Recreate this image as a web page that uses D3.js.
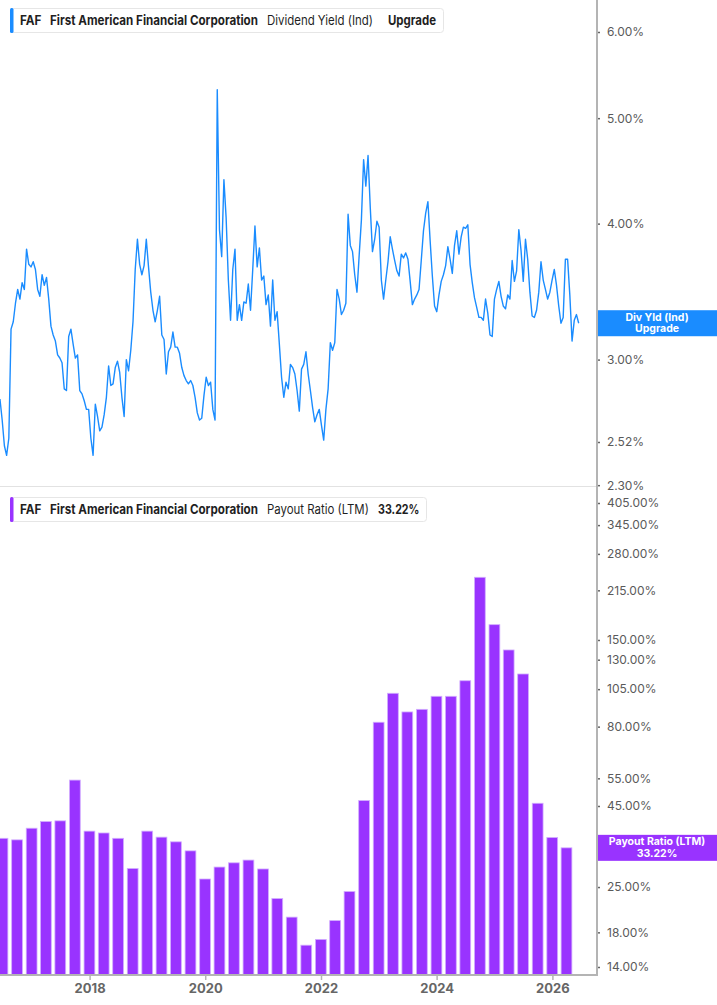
<!DOCTYPE html>
<html>
<head>
<meta charset="utf-8">
<script src="https://cdn.jsdelivr.net/npm/d3@7"></script>
<style>
body { margin: 0; background: #fff; }
svg { display: block; font-family: Inter, "Noto Sans", sans-serif; }
</style>
</head>
<body>
<div id="chart"></div>
<script>
// dividend yield (%), one reading every 14 days starting on yieldStart
var yieldStart = "2016-06-14";
var yieldValues = [
2.76,2.64,2.50,2.45,2.54,3.20,3.25,3.38,3.48,3.41,3.53,3.48,3.79,3.67,3.65,3.69,3.63,3.48,3.43,3.59,
3.51,3.57,3.41,3.22,3.16,3.12,3.03,3.01,2.98,2.82,2.81,3.15,3.20,3.10,3.01,3.03,2.81,2.79,2.75,2.70,
2.70,2.54,2.45,2.73,2.66,2.58,2.60,2.67,2.77,2.96,2.84,2.85,2.95,2.99,2.92,2.77,2.66,3.00,2.93,3.06,
3.25,3.63,3.87,3.67,3.59,3.66,3.87,3.65,3.46,3.33,3.25,3.33,3.43,3.16,3.13,2.91,3.05,3.08,3.18,3.08,
3.08,3.04,2.95,2.90,2.87,2.85,2.87,2.84,2.77,2.68,2.64,2.65,2.78,2.89,2.84,2.86,2.70,2.64,5.31,3.95,
3.73,4.39,4.05,3.55,3.26,3.63,3.79,3.26,3.37,3.26,3.39,3.38,3.52,3.33,3.63,3.98,3.65,3.80,3.55,3.58,
3.37,3.44,3.22,3.55,3.26,3.32,3.10,2.89,2.77,2.86,2.82,2.97,2.95,2.91,2.81,2.69,2.94,2.97,3.05,2.91,
2.81,2.71,2.63,2.67,2.70,2.61,2.53,2.70,2.82,3.11,3.06,3.11,3.48,3.41,3.30,3.33,3.38,4.08,3.82,3.77,
3.59,3.46,3.74,4.03,4.58,4.33,4.62,4.14,3.77,3.87,4.02,3.97,3.55,3.41,3.55,3.69,3.89,3.79,3.70,3.62,
3.58,3.75,3.72,3.76,3.71,3.54,3.37,3.41,3.44,3.48,3.70,3.94,4.09,4.19,3.86,3.58,3.36,3.32,3.44,3.54,
3.59,3.66,3.81,3.71,3.60,3.82,3.94,3.75,3.89,3.97,3.96,3.99,3.67,3.53,3.42,3.35,3.28,3.28,3.26,3.41,
3.31,3.16,3.15,3.41,3.48,3.54,3.43,3.36,3.34,3.44,3.41,3.70,3.54,3.62,3.95,3.78,3.54,3.87,3.71,3.46,
3.29,3.28,3.33,3.46,3.69,3.55,3.48,3.41,3.46,3.55,3.63,3.51,3.36,3.24,3.28,3.71,3.71,3.44,3.12,3.26,
3.30,3.24
];

// payout ratio (LTM, %), quarterly
var payoutQuarters = [
"2016-06-30","2016-09-30","2016-12-31","2017-03-31","2017-06-30","2017-09-30","2017-12-31","2018-03-31",
"2018-06-30","2018-09-30","2018-12-31","2019-03-31","2019-06-30","2019-09-30","2019-12-31","2020-03-31",
"2020-06-30","2020-09-30","2020-12-31","2021-03-31","2021-06-30","2021-09-30","2021-12-31","2022-03-31",
"2022-06-30","2022-09-30","2022-12-31","2023-03-31","2023-06-30","2023-09-30","2023-12-31","2024-03-31",
"2024-06-30","2024-09-30","2024-12-31","2025-03-31","2025-06-30","2025-09-30","2025-12-31","2026-03-31"
];
var payoutValues = [
35.6,35.2,38.3,40.2,40.4,54.3,37.5,37.0,35.6,28.6,37.5,35.9,34.7,32.5,26.5,28.9,29.8,30.4,28.5,23.0,
20.1,16.4,17.1,19.6,24.2,46.8,82.6,101.9,89.0,90.7,99.7,99.7,111.6,236.3,167.6,139.5,117.2,45.9,35.8,33.22
];

var yieldTicks = [6, 5, 4, 3, 2.52, 2.30];
var payoutTicks = [405, 345, 280, 215, 150, 130, 105, 80, 55, 45, 35, 25, 18, 14];
var yearTicks = [2018, 2020, 2022, 2024, 2026];

var width = 717, height = 1005;
var plotRight = 597;
var blue = "#1a8cff", purple = "#9933ff";

var parse = d3.timeParse("%Y-%m-%d");
var start = parse(yieldStart);
var yieldData = yieldValues.map(function(v, i) {
    return {date: d3.timeDay.offset(start, 14 * i), value: v};
});
var payoutData = payoutQuarters.map(function(q, i) {
    return {date: parse(q), value: payoutValues[i]};
});

var svg = d3.select("#chart")
    .append("svg")
    .attr("width", width)
    .attr("height", height);

var x = d3.scaleTime()
    .domain([new Date(2018, 0, 1), new Date(2026, 0, 1)])
    .range([89.6, 552.4]);

var yTop = d3.scaleLog().domain([2.52, 6]).range([442, 32]);
var yBot = d3.scaleLog().domain([14, 405]).range([967, 503]);

// panel separator
svg.append("line")
    .attr("x1", 0).attr("x2", plotRight)
    .attr("y1", 486.5).attr("y2", 486.5)
    .style("stroke", "#e2e2e2")
    .style("stroke-width", 1);

// ---- top panel: dividend yield line
var line = d3.line()
    .x(function(d) { return x(d.date); })
    .y(function(d) { return yTop(d.value); });

svg.append("path")
    .datum(yieldData)
    .attr("d", line)
    .style("fill", "none")
    .style("stroke", blue)
    .style("stroke-width", 1.4)
    .style("stroke-linejoin", "round");

// ---- bottom panel: payout ratio bars
var step = x(payoutData[1].date) - x(payoutData[0].date);
var barW = step * 0.74;
var baseY = 975;

svg.append("g")
    .selectAll("rect")
    .data(payoutData)
    .enter()
    .append("rect")
    .attr("x", function(d) { return x(d.date) - barW / 2; })
    .attr("y", function(d) { return yBot(d.value); })
    .attr("width", barW)
    .attr("height", function(d) { return baseY - yBot(d.value); })
    .style("fill", purple)
    .style("stroke", "#d2adff")
    .style("stroke-width", 0.8);

// ---- right axes
function rightAxis(scale, ticks) {
    var g = svg.append("g")
        .attr("transform", "translate(" + plotRight + ",0)")
        .call(d3.axisRight(scale)
            .tickValues(ticks)
            .tickFormat(function(d) { return d.toFixed(2) + "%"; })
            .tickSize(3)
            .tickPadding(7));
    g.select(".domain").remove();
    g.selectAll(".tick line").style("stroke", "#666").style("stroke-width", 1.5);
    g.selectAll(".tick text")
        .attr("font-family", "Inter, 'Noto Sans', sans-serif")
        .attr("font-size", 12)
        .attr("fill", "#5a5a5a");
    return g;
}
rightAxis(yTop, yieldTicks);
rightAxis(yBot, payoutTicks);

svg.append("line")
    .attr("x1", plotRight).attr("x2", plotRight)
    .attr("y1", 0).attr("y2", baseY + 1)
    .style("stroke", "#b4b4b4")
    .style("stroke-width", 2);

// ---- bottom time axis
var xAxis = svg.append("g")
    .attr("transform", "translate(0," + baseY + ")")
    .call(d3.axisBottom(x)
        .tickValues(yearTicks.map(function(y) { return new Date(y, 0, 1); }))
        .tickFormat(d3.timeFormat("%Y"))
        .tickSize(5)
        .tickPadding(4));
xAxis.select(".domain").remove();
xAxis.selectAll(".tick line").style("stroke", "#b4b4b4").style("stroke-width", 1.5);
xAxis.selectAll(".tick text")
    .attr("font-family", "Inter, 'Noto Sans', sans-serif")
    .attr("font-size", 13)
    .attr("font-weight", 700)
    .attr("fill", "#666");

svg.append("line")
    .attr("x1", 0).attr("x2", plotRight)
    .attr("y1", baseY).attr("y2", baseY)
    .style("stroke", "#b4b4b4")
    .style("stroke-width", 2);

// ---- last value labels on the axis
function lastLabel(yPos, color, line1, line2) {
    var g = svg.append("g").attr("transform", "translate(" + (plotRight + 1) + "," + yPos + ")");
    g.append("rect")
        .attr("x", 0).attr("y", -13)
        .attr("width", width - plotRight).attr("height", 26)
        .style("fill", color);
    g.append("text")
        .attr("x", 59).attr("y", -2.5)
        .style("text-anchor", "middle")
        .attr("font-size", 10.5).attr("font-weight", 700).attr("fill", "#fff")
        .text(line1);
    g.append("text")
        .attr("x", 59).attr("y", 9)
        .style("text-anchor", "middle")
        .attr("font-size", 10.5).attr("font-weight", 700).attr("fill", "#fff")
        .text(line2);
}
lastLabel(yTop(yieldValues[yieldValues.length - 1]), blue, "Div Yld (Ind)", "Upgrade");
lastLabel(yBot(payoutValues[payoutValues.length - 1]), purple, "Payout Ratio (LTM)",
    payoutValues[payoutValues.length - 1].toFixed(2) + "%");

// ---- legends (each piece squeezed horizontally to the width it takes in the original)
function legend(top, boxW, color, pieces) {
    var g = svg.append("g").attr("transform", "translate(10," + top + ")");
    g.append("rect")
        .attr("x", 0.5).attr("y", 0.5)
        .attr("width", boxW).attr("height", 24)
        .attr("rx", 3)
        .style("fill", "#fff")
        .style("stroke", "#e6e6e6");
    g.append("rect")
        .attr("x", 0).attr("y", 0)
        .attr("width", 3.5).attr("height", 25)
        .attr("rx", 1.5)
        .style("fill", color);
    pieces.forEach(function(p) {
        var t = g.append("text")
            .attr("x", 0).attr("y", 17)
            .attr("font-size", 13)
            .attr("font-weight", p[3] ? 700 : 400)
            .attr("fill", "#1f1f1f")
            .text(p[0]);
        var k = p[2] / t.node().getComputedTextLength();
        t.attr("transform", "translate(" + (p[1] - 10) + ",0) scale(" + k + ",1)");
    });
}
legend(8, 433, blue, [
    ["FAF", 20, 21.5, true],
    ["First American Financial Corporation", 50, 208, true],
    ["Dividend Yield (Ind)", 267, 106, false],
    ["Upgrade", 388, 48, true]
]);
legend(497, 416, purple, [
    ["FAF", 20, 21.5, true],
    ["First American Financial Corporation", 50, 208, true],
    ["Payout Ratio (LTM)", 267, 102, false],
    ["33.22%", 378, 41.5, true]
]);
</script>
</body>
</html>
